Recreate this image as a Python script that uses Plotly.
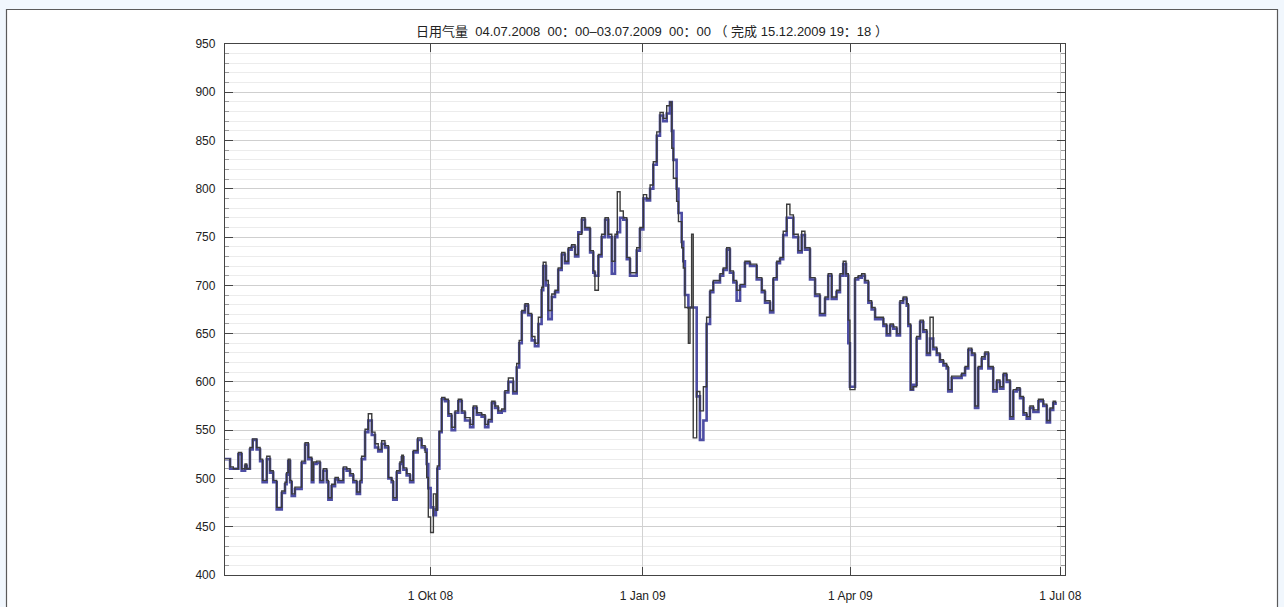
import pandas as pd
import plotly.graph_objects as go

# ---------------- data ----------------
start_date = "2008-07-04"
end_date = "2009-07-03"

# day offsets (days since 04.07.2008) of the readings
day_offset = [
    0.0, 2.2, 3.6, 5.8, 7.2, 8.7, 9.4, 10.8, 12.0, 13.7,
    15.2, 16.3, 18.1, 19.5, 20.9, 22.4, 23.8, 24.6, 26.0, 26.7,
    27.4, 28.2, 28.9, 30.3, 31.8, 33.2, 34.7, 36.1, 37.6, 38.3,
    39.7, 41.2, 42.6, 44.1, 44.8, 46.2, 47.7, 49.1, 51.3, 52.7,
    54.2, 55.6, 57.1, 58.5, 59.2, 60.7, 62.1, 63.6, 65.0, 66.4,
    67.9, 69.3, 70.8, 72.2, 72.9, 74.4, 75.8, 76.6, 77.3, 78.7,
    80.2, 81.6, 83.5, 85.2, 86.7, 87.4, 88.1, 89.1, 90.3, 91.4,
    92.0, 92.9, 93.9, 95.3, 96.8, 98.2, 99.7, 101.1, 102.6, 104.0,
    106.2, 107.6, 109.1, 111.2, 112.7, 114.1, 115.6, 117.0, 118.4, 119.9,
    121.3, 122.8, 124.9, 126.4, 127.5, 128.6, 130.0, 131.4, 132.9, 134.3,
    135.8, 137.2, 137.9, 139.1, 140.1, 141.6, 143.0, 144.4, 145.9, 147.3,
    148.8, 150.2, 151.7, 153.1, 154.6, 156.0, 158.2, 159.6, 160.3, 161.8,
    163.2, 164.7, 166.1, 167.6, 169.0, 170.0, 171.2, 172.6, 174.1, 175.5,
    176.9, 178.4, 179.8, 181.3, 182.7, 184.2, 185.6, 187.1, 188.5, 189.9,
    191.4, 192.8, 193.6, 194.3, 195.7, 196.5, 197.9, 198.6, 199.3, 200.8,
    201.5, 202.2, 202.9, 204.4, 205.8, 207.3, 208.7, 210.2, 211.6, 213.1,
    214.5, 215.9, 217.4, 218.8, 220.3, 221.7, 223.2, 225.3, 227.5, 228.9,
    230.4, 232.6, 234.0, 236.2, 237.6, 239.1, 240.5, 241.9, 243.4, 244.8,
    246.3, 248.4, 249.9, 251.3, 253.5, 255.7, 257.8, 260.0, 261.4, 262.9,
    265.0, 266.5, 267.9, 269.1, 270.1, 270.8, 273.0, 274.4, 275.9, 277.3,
    278.8, 280.2, 281.7, 283.8, 285.3, 286.7, 288.2, 289.6, 291.1, 292.5,
    293.9, 295.4, 296.1, 297.1, 298.2, 299.7, 301.2, 302.6, 304.1, 305.5,
    306.9, 308.4, 309.8, 311.3, 312.7, 313.4, 314.9, 317.1, 319.2, 320.7,
    322.1, 323.6, 325.0, 326.4, 327.9, 329.3, 330.8, 332.9, 334.4, 335.8,
    337.3, 338.7, 340.2, 341.6, 343.1, 344.5, 346.0, 347.4, 348.8, 350.3,
    352.5, 354.6, 356.1, 357.5, 358.9, 359.9,
]

gas_black = [
    520, 512, 510, 527, 510, 515, 510, 532, 541, 532,
    520, 498, 523, 508, 498, 470, 470, 487, 496, 506,
    520, 498, 484, 491, 491, 518, 537, 522, 498, 517,
    518, 498, 510, 498, 480, 494, 501, 498, 512, 510,
    505, 498, 486, 498, 523, 551, 567, 548, 536, 530,
    539, 534, 501, 498, 480, 508, 517, 524, 511, 505,
    498, 529, 542, 534, 527, 501, 460, 444, 484, 467,
    513, 549, 584, 582, 567, 553, 570, 582, 570, 563,
    556, 575, 568, 566, 556, 561, 580, 575, 570, 572,
    591, 604, 590, 619, 643, 674, 681, 671, 647, 640,
    667, 698, 724, 705, 674, 691, 695, 718, 734, 725,
    739, 742, 732, 753, 770, 760, 736, 715, 695, 732,
    753, 770, 753, 725, 753, 797, 777, 770, 729, 713,
    713, 739, 760, 794, 790, 804, 828, 859, 879, 873,
    886, 890, 842, 811, 787, 766, 739, 718, 677, 640,
    677, 753, 542, 590, 570, 595, 667, 695, 705, 705,
    712, 718, 739, 715, 705, 695, 701, 725, 722, 722,
    708, 695, 684, 674, 708, 725, 729, 756, 784, 773,
    753, 736, 756, 739, 708, 691, 671, 688, 712, 688,
    695, 712, 725, 712, 664, 592, 708, 710, 712, 705,
    684, 677, 667, 667, 660, 650, 660, 657, 650, 684,
    688, 681, 660, 592, 595, 647, 664, 654, 630, 667,
    636, 630, 623, 619, 616, 592, 606, 606, 609, 616,
    635, 630, 575, 616, 626, 631, 616, 592, 602, 595,
    609, 602, 564, 592, 594, 585, 568, 564, 575, 571,
    582, 577, 560, 573, 580, 578,
]

gas_blue = [
    520, 510, 510, 525, 508, 513, 510, 530, 540, 530,
    518, 496, 520, 506, 496, 468, 468, 485, 494, 504,
    518, 496, 482, 489, 489, 516, 535, 520, 496, 515,
    516, 496, 508, 496, 478, 492, 499, 496, 510, 508,
    503, 496, 484, 496, 520, 548, 560, 545, 532, 528,
    536, 532, 500, 496, 478, 506, 515, 522, 509, 503,
    496, 527, 540, 532, 530, 515, 490, 470, 462, 468,
    510, 548, 582, 580, 565, 550, 568, 580, 568, 560,
    553, 573, 566, 564, 553, 559, 578, 573, 568, 570,
    589, 600, 588, 615, 640, 672, 679, 669, 643, 637,
    660, 695, 720, 700, 665, 688, 693, 716, 732, 723,
    737, 740, 730, 755, 768, 758, 734, 713, 710, 730,
    750, 768, 750, 712, 750, 755, 770, 768, 727, 710,
    710, 736, 758, 790, 788, 800, 825, 855, 876, 870,
    878, 890, 860, 830, 800, 775, 745, 725, 690, 677,
    677, 677, 677, 585, 540, 560, 660, 693, 703, 703,
    710, 716, 737, 713, 703, 684, 699, 723, 720, 720,
    706, 693, 682, 672, 706, 723, 727, 752, 770, 770,
    750, 734, 752, 737, 706, 689, 669, 686, 710, 686,
    693, 710, 722, 710, 640, 595, 706, 708, 710, 703,
    682, 675, 665, 665, 658, 648, 658, 655, 648, 682,
    686, 679, 658, 592, 597, 645, 662, 652, 628, 645,
    634, 628, 621, 617, 614, 590, 604, 604, 607, 614,
    633, 628, 573, 614, 624, 629, 614, 590, 600, 593,
    607, 600, 562, 590, 592, 583, 566, 562, 573, 569,
    580, 575, 558, 571, 578, 576,
]

tick_dates = ["2008-10-01", "2009-01-01", "2009-04-01", "2009-07-01"]
tick_labels = ["1 Okt 08", "1 Jan 09", "1 Apr 09", "1 Jul 08"]

title_text = "日用气量  04.07.2008  00：00–03.07.2009  00：00 （ 完成 15.12.2009 19：18 ）"

# ---------------- figure ----------------
dates = pd.Timestamp(start_date) + pd.to_timedelta(day_offset, unit="D")

FONT = "Liberation Sans, Arial, Noto Sans CJK SC, sans-serif"

fig = go.Figure()
fig.add_trace(go.Scatter(
    x=dates, y=gas_blue, mode="lines", line_shape="hv",
    line=dict(color="#4d4da3", width=2.6), showlegend=False, hoverinfo="skip",
))
fig.add_trace(go.Scatter(
    x=dates, y=gas_black, mode="lines", line_shape="hv",
    line=dict(color="#3b3b3b", width=1.4), showlegend=False, hoverinfo="skip",
))

W, H = 1284, 607
L, R, T, B = 225, 1065, 44, 575
pw, ph = R - L, B - T

def px_x(v):
    return (v - L) / pw

def px_y(v):
    return (B - v) / ph

fig.add_shape(type="rect", xref="paper", yref="paper",
              x0=px_x(6.5), x1=px_x(1277.5), y0=px_y(640), y1=px_y(9.5),
              fillcolor="white", line=dict(color="#5a5a5a", width=1.2), layer="below")

fig.update_layout(
    width=W, height=H,
    margin=dict(l=L, r=W - R, t=T, b=H - B, pad=0, autoexpand=False),
    paper_bgcolor="#f1f7fd",
    plot_bgcolor="white",
    font=dict(family=FONT, size=12, color="#222222"),
    title=dict(text=title_text, x=px_x(652), xref="paper", xanchor="center",
               y=1 - 31 / H, yref="container", yanchor="middle",
               font=dict(family=FONT, size=13, color="#222222")),
    xaxis=dict(
        type="date", range=[start_date, end_date], automargin=False,
        tickvals=tick_dates, ticktext=tick_labels,
        ticks="inside", ticklen=8, tickwidth=1.2, tickcolor="#444444",
        showline=True, linecolor="#444444", linewidth=1.3, mirror="ticks",
        showgrid=True, gridcolor="#d2d2d2", gridwidth=1,
        zeroline=False, ticklabelstandoff=9,
        tickfont=dict(size=12, color="#222222"),
    ),
    yaxis=dict(
        range=[400, 950], dtick=50, tick0=400, automargin=False,
        ticks="inside", ticklen=8, tickwidth=1.2, tickcolor="#444444",
        showline=True, linecolor="#444444", linewidth=1.3, mirror="ticks",
        showgrid=True, gridcolor="#cfcfcf", gridwidth=1,
        zeroline=False, ticklabelstandoff=6,
        tickfont=dict(size=12, color="#222222"),
        minor=dict(dtick=10, showgrid=True, gridcolor="#ececec", gridwidth=1,
                   ticks="inside", ticklen=4, tickcolor="#999999"),
    ),
)

fig.write_html("out.html")
